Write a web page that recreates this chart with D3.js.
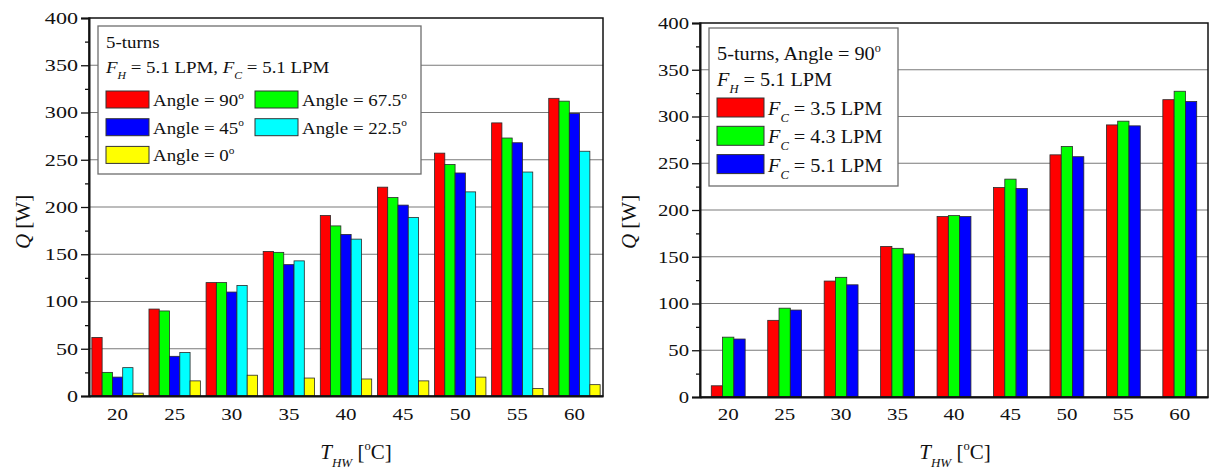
<!DOCTYPE html>
<html>
<head>
<meta charset="utf-8">
<script src="https://cdn.jsdelivr.net/npm/d3@7"></script>
<style>
  body { margin: 0; background: #fff; }
  svg { display: block; }
  svg text { font-family: "Liberation Serif", "Times New Roman", Times, "DejaVu Serif", serif !important; fill: #111; }
</style>
</head>
<body>
<svg id="fig" width="1209" height="469"></svg>
<script>
// Hot-water inlet temperature categories [°C]
const temps = [20, 25, 30, 35, 40, 45, 50, 55, 60];
const yTicks = [0, 50, 100, 150, 200, 250, 300, 350, 400];
const yMinorTicks = [25, 75, 125, 175, 225, 275, 325, 375];

// Heat transfer rate Q [W] for each inclination angle (5 turns, FH = FC = 5.1 LPM)
const angleLabels = ["90", "67.5", "45", "22.5", "0"];
const angle90   = [62, 92, 120, 153, 191, 221, 257, 289, 315];
const angle675  = [25, 90, 120, 152, 180, 210, 245, 273, 312];
const angle45   = [20, 42, 110, 139, 171, 202, 236, 268, 299];
const angle225  = [30, 46, 117, 143, 166, 189, 216, 237, 259];
const angle0    = [3, 16, 22, 19, 18, 16, 20, 8, 12];
const angleColors = ["#ff0000", "#00ff00", "#0000ff", "#00ffff", "#ffff00"];

// Heat transfer rate Q [W] for each cold-water flow rate (5 turns, 90°, FH = 5.1 LPM)
const flowLabels = ["3.5", "4.3", "5.1"];
const flow35 = [12, 82, 124, 161, 193, 224, 259, 291, 318];
const flow43 = [64, 95, 128, 159, 194, 233, 268, 295, 327];
const flow51 = [62, 93, 120, 153, 193, 223, 257, 290, 316];
const flowColors = ["#ff0000", "#00ff00", "#0000ff"];

const SERIF = "'Liberation Serif', 'Times New Roman', Times, 'DejaVu Serif', serif";
const svg = d3.select("#fig").attr("font-family", SERIF);

// Text made of runs: plain, italic, subscript or superscript; sx widens the glyphs
function richText(parent, x, y, parts, size, anchor, sx) {
  const holder = parent.append("g")
    .attr("transform", `translate(${x},${y}) scale(${sx || 1},1)`);
  const t = holder.append("text")
    .attr("x", 0).attr("y", 0)
    .attr("font-family", SERIF)
    .style("font-size", size + "px")
    .attr("text-anchor", anchor || "start");
  let shift = 0;
  parts.forEach(p => {
    let target = 0, fs = size;
    if (p.sub) { target = size * 0.36; fs = size * 0.62; }
    if (p.sup) { target = -size * 0.42; fs = size * 0.6; }
    const ts = t.append("tspan").text(p.t)
      .attr("dy", target - shift)
      .style("font-size", fs + "px");
    if (p.i) ts.style("font-style", "italic");
    shift = target;
  });
  return t;
}

function drawChart(cfg) {
  const g = svg.append("g");
  const x = d3.scaleBand().domain(temps)
    .range([cfg.left, cfg.right])
    .paddingInner(cfg.pad).paddingOuter(cfg.pad / 2);
  const xs = d3.scaleBand().domain(d3.range(cfg.series.length))
    .range([0, x.bandwidth()]);
  const y = d3.scaleLinear().domain([0, 400]).range([cfg.bottom, cfg.top]);

  // horizontal gridlines
  g.append("g").selectAll("line")
    .data(yTicks.filter(v => v > 0 && v < 400))
    .join("line")
    .attr("x1", cfg.left).attr("x2", cfg.right)
    .attr("y1", d => y(d)).attr("y2", d => y(d))
    .attr("stroke", "#7a7a7a").attr("stroke-width", 1.1);

  // bars
  cfg.series.forEach((vals, si) => {
    g.append("g").selectAll("rect")
      .data(vals)
      .join("rect")
      .attr("x", (v, i) => x(temps[i]) + xs(si))
      .attr("y", v => y(v))
      .attr("width", xs.bandwidth())
      .attr("height", v => y(0) - y(v))
      .attr("fill", cfg.colors[si])
      .attr("stroke", "#2a2a2a")
      .attr("stroke-width", 0.8);
  });

  // plot frame
  g.append("rect")
    .attr("x", cfg.left).attr("y", cfg.top)
    .attr("width", cfg.right - cfg.left).attr("height", cfg.bottom - cfg.top)
    .attr("fill", "none").attr("stroke", "#111").attr("stroke-width", 1.5);

  // y axis: major + minor ticks
  const yTickSize = 8, yTickPad = 3;
  const yAxis = g.append("g").attr("transform", `translate(${cfg.left},0)`)
    .call(d3.axisLeft(y).tickValues(yTicks).tickSize(yTickSize).tickPadding(yTickPad).tickFormat(d3.format("d")));
  yAxis.attr("font-family", SERIF);
  yAxis.select(".domain").attr("stroke", "#111").attr("stroke-width", 2);
  yAxis.selectAll(".tick line").attr("stroke", "#111").attr("stroke-width", 1.3);
  yAxis.selectAll(".tick text").style("font-size", "17px")
    .attr("font-family", SERIF).attr("fill", "#111")
    .attr("x", -(yTickSize + yTickPad) / cfg.yTickSx)
    .attr("transform", `scale(${cfg.yTickSx},1)`);
  const yMinor = g.append("g").attr("transform", `translate(${cfg.left},0)`)
    .call(d3.axisLeft(y).tickValues(yMinorTicks).tickSize(4).tickFormat(""));
  yMinor.select(".domain").remove();
  yMinor.selectAll(".tick line").attr("stroke", "#111").attr("stroke-width", 1.3);

  // x axis
  const xAxis = g.append("g").attr("transform", `translate(0,${cfg.bottom})`)
    .call(d3.axisBottom(x).tickSize(0).tickPadding(cfg.xPad));
  xAxis.attr("font-family", SERIF);
  xAxis.select(".domain").attr("stroke", "#111").attr("stroke-width", 2);
  xAxis.selectAll(".tick text").style("font-size", "17.5px")
    .attr("font-family", SERIF).attr("fill", "#111")
    .attr("transform", "scale(1.2,1)");

  // axis titles
  richText(g, cfg.xTitleX, 459, [
    { t: "T", i: true }, { t: "HW", i: true, sub: true }, { t: " [" },
    { t: "o", sup: true }, { t: "C]" }
  ], 21, "middle");
  const yt = g.append("g").attr("transform", `translate(${cfg.yTitleX},222) rotate(-90)`);
  richText(yt, 0, 0, [{ t: "Q", i: true }, { t: " [W]" }], 21, "middle");

  // legend
  const L = cfg.legend;
  const lg = g.append("g");
  lg.append("rect")
    .attr("x", L.x).attr("y", L.y).attr("width", L.w).attr("height", L.h)
    .attr("fill", "#fff").attr("stroke", "#6e6e6e").attr("stroke-width", 1.3);
  L.header.forEach((parts, k) => {
    richText(lg, L.x + 8, L.y + L.headerY[k], parts, L.fs, "start", L.sx);
  });
  cfg.labels.forEach((lab, k) => {
    const col = k % L.cols, row = Math.floor(k / L.cols);
    const sx = L.x + 8 + col * L.colW;
    const sy = L.y + L.rowY + row * L.rowH;
    lg.append("rect")
      .attr("x", sx).attr("y", sy).attr("width", L.sw).attr("height", L.sh)
      .attr("fill", cfg.colors[k]).attr("stroke", "#333").attr("stroke-width", 1);
    richText(lg, sx + L.sw + 4, sy + L.sh - 2, L.entry(lab), L.fs, "start", L.sx);
  });
}

drawChart({
  left: 89, right: 603, top: 18, bottom: 396, pad: 0.1, xPad: 12, yTickSx: 1.3,
  series: [angle90, angle675, angle45, angle225, angle0],
  colors: angleColors, labels: angleLabels,
  xTitleX: 356, yTitleX: 30,
  legend: {
    x: 98, y: 26, w: 323, h: 148, cols: 2, colW: 149, fs: 17.5, sx: 1.08,
    headerY: [22, 47], rowY: 65, rowH: 27.7, sw: 43, sh: 17,
    header: [
      [{ t: "5-turns" }],
      [{ t: "F", i: true }, { t: "H", i: true, sub: true }, { t: " = 5.1 LPM, " },
       { t: "F", i: true }, { t: "C", i: true, sub: true }, { t: " = 5.1 LPM" }]
    ],
    entry: lab => [{ t: "Angle = " + lab }, { t: "o", sup: true }]
  }
});

drawChart({
  left: 700, right: 1208, top: 23, bottom: 397, pad: 0.4, xPad: 11, yTickSx: 1.22,
  series: [flow35, flow43, flow51],
  colors: flowColors, labels: flowLabels,
  xTitleX: 955, yTitleX: 636,
  legend: {
    x: 709, y: 28, w: 189, h: 158, cols: 1, colW: 0, fs: 19.5, sx: 1.04,
    headerY: [32, 58], rowY: 70, rowH: 28.3, sw: 47, sh: 19,
    header: [
      [{ t: "5-turns, Angle = 90" }, { t: "o", sup: true }],
      [{ t: "F", i: true }, { t: "H", i: true, sub: true }, { t: " = 5.1 LPM" }]
    ],
    entry: lab => [{ t: "F", i: true }, { t: "C", i: true, sub: true }, { t: " = " + lab + " LPM" }]
  }
});
</script>
</body>
</html>
